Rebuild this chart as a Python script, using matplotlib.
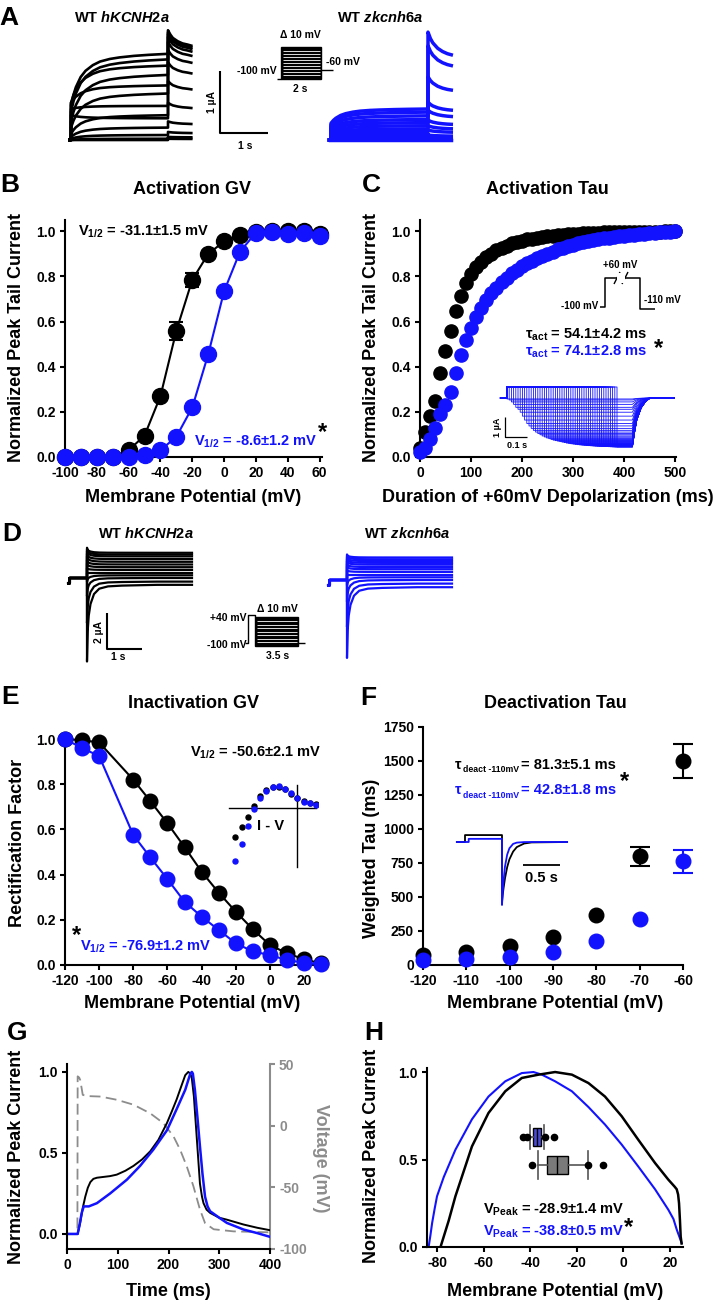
import numpy as np
import matplotlib
matplotlib.use('Agg')
import matplotlib.pyplot as plt
from matplotlib.patches import Rectangle
from matplotlib.ticker import FormatStrFormatter

plt.rcParams['font.family'] = ['Liberation Sans', 'DejaVu Sans']
plt.rcParams['font.weight'] = 'bold'
plt.rcParams['axes.labelweight'] = 'bold'
plt.rcParams['mathtext.fontset'] = 'custom'
plt.rcParams['mathtext.rm'] = 'Liberation Sans:bold'
plt.rcParams['mathtext.it'] = 'Liberation Sans:bold:italic'
plt.rcParams['mathtext.bf'] = 'Liberation Sans:bold'
plt.rcParams['mathtext.default'] = 'rm'
plt.rcParams['axes.unicode_minus'] = False
plt.rcParams['axes.facecolor'] = 'none'

BLUE = '#1212ff'
GRAY = '#8c8c8c'

# ---------------- data ----------------
# Panel A: activation current families (uA), 13 sweeps
a_shape_t = [0.0, 0.05, 0.1, 0.2, 0.3, 0.45, 0.6, 0.8, 1.0, 1.3, 1.6, 2.0]
a_shape_v = [0.0, 0.2, 0.35, 0.55, 0.67, 0.78, 0.85, 0.9, 0.93, 0.96, 0.98, 1.0]
a_tail_t = [0.0, 0.05, 0.1, 0.2, 0.3, 0.4, 0.48]
a_h_inst = [0.0, 0.0, 0.02, 0.05, 0.1, 0.2, 0.3, 0.45, 0.56, 0.6, 0.6, 0.5, 0.4]
a_h_ss = [0.0, 0.02, 0.08, 0.2, 0.4, 0.75, 1.05, 1.3, 1.39, 1.2, 0.88, 0.55, 0.35]
a_h_tail = [0.02, 0.05, 0.13, 0.3, 0.6, 0.95, 1.25, 1.45, 1.58, 1.66, 1.71, 1.74, 1.77]
a_h_tailfrac = [1.0, 0.96, 0.93, 0.9, 0.88, 0.87, 0.86]
a_z_inst = [0.0, 0.01, 0.02, 0.03, 0.05, 0.07, 0.09, 0.12, 0.15, 0.18, 0.21, 0.24, 0.27]
a_z_ss = [0.0, 0.02, 0.04, 0.07, 0.1, 0.14, 0.18, 0.23, 0.28, 0.33, 0.39, 0.45, 0.5]
a_z_tail = [0.0, 0.01, 0.02, 0.04, 0.08, 0.16, 0.23, 0.32, 0.48, 0.61, 1.02, 1.52, 1.74]
a_z_tailfrac = [1.0, 0.94, 0.9, 0.85, 0.82, 0.8, 0.79]

# Panel B: activation GV
b_volt = [-100, -90, -80, -70, -60, -50, -40, -30, -20, -10, 0, 10, 20, 30, 40, 50, 60]
b_black = [0.0, 0.0, 0.0, 0.0, 0.03, 0.095, 0.27, 0.56, 0.785, 0.90, 0.955, 0.985, 0.997, 1.0, 1.0, 1.0, 0.99]
b_black_err = [0, 0, 0, 0, 0, 0, 0, 0.04, 0.03, 0, 0, 0, 0, 0, 0, 0, 0]
b_blue = [0.0, 0.0, 0.0, 0.0, 0.0, 0.01, 0.03, 0.09, 0.22, 0.455, 0.735, 0.91, 0.994, 0.997, 0.99, 0.994, 0.978]

# Panel C: activation time course (ms)
c_time = list(range(0, 501, 10))
c_black = [0.04, 0.11, 0.18, 0.25, 0.37, 0.47, 0.56, 0.645, 0.715, 0.77,
           0.81, 0.84, 0.865, 0.885, 0.90, 0.915, 0.927, 0.937, 0.946, 0.953,
           0.959, 0.964, 0.968, 0.972, 0.975, 0.978, 0.981, 0.983, 0.985, 0.987,
           0.989, 0.990, 0.991, 0.992, 0.993, 0.994, 0.995, 0.995, 0.996, 0.996,
           0.997, 0.997, 0.998, 0.998, 0.998, 0.999, 0.999, 0.999, 1.0, 1.0, 1.0]
c_blue = [0.02, 0.04, 0.08, 0.13, 0.19, 0.23, 0.29, 0.37, 0.45, 0.52,
          0.57, 0.62, 0.66, 0.695, 0.725, 0.75, 0.775, 0.795, 0.815, 0.83,
          0.845, 0.86, 0.87, 0.88, 0.89, 0.90, 0.91, 0.92, 0.927, 0.934,
          0.94, 0.946, 0.952, 0.957, 0.961, 0.965, 0.969, 0.972, 0.975, 0.978,
          0.981, 0.983, 0.985, 0.987, 0.989, 0.991, 0.993, 0.995, 0.997, 0.998, 1.0]
c_in_depol = 0.55
c_in_tailmax = 2.45
c_in_end = 0.57
c_rec_t = [0.0, 0.01, 0.02, 0.04, 0.06, 0.08]
c_rec_f = [1.0, 0.7, 0.45, 0.2, 0.07, 0.0]

# Panel D: inactivation families (uA)
d_pre_t = [-0.53, -0.5, -0.5, 0.0]
d_pre_i = [-0.3, -0.3, 0.0, 0.0]
d_dec_t = [0.0, 0.02, 0.05, 0.1, 0.2, 0.35, 0.6, 1.0, 2.0, 3.0]
d_dec_f = [1.0, 0.6, 0.4, 0.25, 0.12, 0.05, 0.02, 0.01, 0.0, 0.0]
d_h_ss = [1.4, 1.3, 1.2, 1.05, 0.9, 0.75, 0.6, 0.45, 0.3, 0.15, 0.0, -0.2, -0.38]
d_h_pk = [1.68, 1.6, 1.5, 1.35, 1.2, 1.0, 0.8, 0.55, 0.3, -0.2, -1.0, -2.5, -4.64]
d_z_ss = [1.25, 1.15, 1.05, 0.95, 0.85, 0.72, 0.6, 0.45, 0.3, 0.15, 0.0, -0.2, -0.4]
d_z_pk = [1.42, 1.35, 1.25, 1.15, 1.05, 0.9, 0.75, 0.55, 0.3, -0.3, -1.2, -2.6, -4.33]

# Panel E: inactivation
e_volt = [-120, -110, -100, -80, -70, -60, -50, -40, -30, -20, -10, 0, 10, 20, 30]
e_black = [1.0, 0.995, 0.985, 0.82, 0.725, 0.627, 0.522, 0.413, 0.32, 0.236, 0.158, 0.088, 0.052, 0.025, 0.007]
e_blue = [1.0, 0.96, 0.925, 0.575, 0.476, 0.38, 0.28, 0.214, 0.155, 0.096, 0.06, 0.044, 0.022, 0.01, 0.004]
iv_volt = [-100, -90, -80, -70, -60, -50, -40, -30, -20, -10, 0, 10, 20, 30]
iv_black = [-1.38, -0.9, -0.43, 0.1, 0.57, 0.86, 1.0, 1.0, 0.9, 0.67, 0.48, 0.33, 0.24, 0.2]
iv_blue = [-2.5, -1.7, -0.86, -0.05, 0.48, 0.81, 1.0, 1.05, 0.9, 0.71, 0.48, 0.29, 0.24, 0.14]

# Panel F: deactivation
f_volt = [-120, -110, -100, -90, -80, -70, -60]
f_black = [74, 98, 140, 205, 368, 800, 1497]
f_black_err = [0, 0, 0, 0, 0, 70, 125]
f_blue = [37, 42, 61, 98, 179, 336, 762]
f_blue_err = [0, 0, 0, 0, 0, 0, 85]
f_in_t = [0.0, 0.01, 0.02, 0.04, 0.07, 0.1, 0.15, 0.2, 0.3, 0.4, 0.88]
f_in_black = [1.0, 0.88, 0.78, 0.61, 0.42, 0.29, 0.16, 0.085, 0.025, 0.007, 0.0]
f_in_blue = [1.0, 0.79, 0.63, 0.39, 0.2, 0.1, 0.03, 0.01, 0.001, 0.0, 0.0]
f_in_step_black = 0.11
f_in_step_blue = 0.05
f_in_peak_black = -0.95
f_in_peak_blue = -1.0

# Panel G: AP clamp
g_t_black = [0, 21, 26, 31, 36, 41, 46, 52, 59, 72, 85, 98, 115, 131, 148, 164, 180, 197, 207, 216,
             225, 233, 239, 243, 246, 250, 256, 262, 266, 269, 275, 282, 300, 315, 348, 375, 400]
g_black = [0.0, 0.0, 0.07, 0.16, 0.23, 0.285, 0.32, 0.34, 0.347, 0.352, 0.357, 0.366, 0.39, 0.42, 0.46,
           0.51, 0.58, 0.685, 0.76, 0.83, 0.91, 0.98, 1.0, 0.99, 0.96, 0.85, 0.58, 0.31, 0.23, 0.19,
           0.15, 0.13, 0.1, 0.088, 0.058, 0.038, 0.023]
g_t_blue = [0, 21, 25, 29, 33, 43, 59, 85, 118, 144, 170, 197, 216, 233, 240, 243, 246, 248, 252,
            257, 262, 267, 272, 277, 282, 300, 315, 348, 375, 400]
g_blue = [0.0, 0.0, 0.06, 0.13, 0.17, 0.17, 0.19, 0.25, 0.335, 0.42, 0.52, 0.64, 0.77, 0.89, 0.96,
          0.99, 1.0, 0.99, 0.89, 0.72, 0.54, 0.37, 0.23, 0.17, 0.14, 0.1, 0.068, 0.027, 0.005, -0.018]
g_t_volt = [0, 20.5, 21, 24, 26, 29, 31, 39, 66, 98, 131, 164, 190, 210, 223, 236, 249, 262, 272, 289, 328, 400]
g_volt = [-88, -88, 40, 39, 37, 30, 25, 24, 23.6, 21, 17, 10, 2, -8.8, -19.6, -33, -49, -68, -79, -84, -85.7, -86.5]

# Panel H: AP ramp I-V
h_v_blue = [-83.6, -82.8, -82.1, -81, -80, -77.1, -72.1, -65, -57.9, -50.7, -43.6, -38.6, -35, -29.3,
            -22.1, -15, -7.9, -0.7, 6.4, 13.6, 19.3, 21.5, 22.9, 24, 25]
h_blue = [0.0, 0.07, 0.137, 0.22, 0.29, 0.4, 0.556, 0.73, 0.86, 0.947, 0.994, 1.0, 0.985, 0.947,
          0.89, 0.80, 0.70, 0.585, 0.46, 0.33, 0.213, 0.16, 0.1, 0.06, 0.023]
h_v_black = [-78.5, -75, -72.1, -65, -57.9, -50.7, -43.6, -36.4, -29.3, -22.1, -15, -7.9, -0.7, 6.4,
             13.6, 19.3, 22.0, 22.9, 23.5, 23.9, 24.3, 24.6, 25]
h_black = [0.0, 0.15, 0.29, 0.575, 0.766, 0.89, 0.966, 0.985, 1.0, 0.985, 0.937, 0.86, 0.747, 0.613,
           0.48, 0.385, 0.345, 0.33, 0.3, 0.25, 0.15, 0.06, 0.02]
h_box_blue = dict(whislo=-40.0, q1=-38.9, med=-37.1, q3=-35.4, whishi=-34.0, fliers=[-42.9, -41.4, -33.6, -29.7])
h_box_black = dict(whislo=-36.7, q1=-32.6, med=-28.3, q3=-23.6, whishi=-15.0, fliers=[-39.3, -15.0, -8.6])
h_box_pos = [0.63, 0.469]

# ---------------- figure ----------------
W, H = 714, 1305
fig = plt.figure(figsize=(W / 100, H / 100), dpi=100)


def add_ax(x0, y0, x1, y1):
    return fig.add_axes([x0 / W, 1 - y1 / H, (x1 - x0) / W, (y1 - y0) / H])


def trace_ax(box, t0px, xs, b0px, ys):
    x0, y0, x1, y1 = box
    ax = add_ax(x0, y0, x1, y1)
    ax.set_xlim((x0 - t0px) / xs, (x1 - t0px) / xs)
    ax.set_ylim((b0px - y1) / ys, (b0px - y0) / ys)
    ax.axis('off')
    return ax


def style(ax):
    for s in ['top', 'right']:
        ax.spines[s].set_visible(False)
    for s in ['left', 'bottom']:
        ax.spines[s].set_linewidth(1.5)
    ax.tick_params(direction='out', length=3.5, width=1.5, labelsize=10, pad=3)


def err_only(ax, x, y, e, color, cap):
    xs = [a for a, b in zip(x, e) if b > 0]
    ys = [a for a, b in zip(y, e) if b > 0]
    es = [b for b in e if b > 0]
    ax.errorbar(xs, ys, yerr=es, fmt='none', ecolor=color, capsize=cap,
                elinewidth=1.5, capthick=1.5, clip_on=False, zorder=3)


# ---- Panel A traces
def act_sweeps(ax, inst, ss, tail, frac, color, lw):
    for i0, s0, tp in zip(inst, ss, tail):
        t = [-0.03, 0.0] + list(a_shape_t) + [a_shape_t[-1] + x for x in a_tail_t]
        y = [0.0, 0.0] + [i0 + (s0 - i0) * v for v in a_shape_v] + [tp * f for f in frac]
        ax.plot(t, y, color=color, lw=lw)


axA1 = trace_ax((60, 25, 200, 150), 71, 48.5, 140, 62)
act_sweeps(axA1, a_h_inst, a_h_ss, a_h_tail, a_h_tailfrac, 'k', 1.9)
axA2 = trace_ax((320, 25, 460, 150), 331, 48.5, 140, 62)
act_sweeps(axA2, a_z_inst, a_z_ss, a_z_tail, a_z_tailfrac, BLUE, 2.5)


# ---- Panel D traces
def inact_sweeps(ax, ss, pk, color, lw):
    for s0, p0 in zip(ss, pk):
        t = list(d_pre_t) + list(d_dec_t)
        y = list(d_pre_i) + [s0 + (p0 - s0) * f for f in d_dec_f]
        ax.plot(t, y, color=color, lw=lw)


axD1 = trace_ax((60, 540, 200, 670), 87, 35, 578, 18)
inact_sweeps(axD1, d_h_ss, d_h_pk, 'k', 1.6)
axD2 = trace_ax((320, 540, 460, 670), 347, 35, 580, 18)
inact_sweeps(axD2, d_z_ss, d_z_pk, BLUE, 1.6)

# ---- Panel B
axB = add_ax(65, 220, 322, 457)
style(axB)
err_only(axB, b_volt, b_black, b_black_err, 'k', 5)
axB.plot(b_volt, b_black, '-o', color='k', ms=11.5, lw=1.5, clip_on=False, zorder=3)
axB.plot(b_volt, b_blue, '-o', color=BLUE, ms=11.5, lw=1.5, clip_on=False, zorder=4)
axB.set_xlim(-100, 61.5)
axB.set_ylim(0, 1.05)
axB.set_xticks(range(-100, 61, 20))
axB.set_yticks([0, 0.2, 0.4, 0.6, 0.8, 1.0])
axB.yaxis.set_major_formatter(FormatStrFormatter('%.1f'))

# ---- Panel C
axC = add_ax(420, 220, 676, 457)
style(axC)
axC.plot(c_time, c_black, 'o', color='k', ms=9.5, clip_on=False, zorder=3)
axC.plot(c_time, c_blue, 'o', color=BLUE, ms=9.5, clip_on=False, zorder=4)
axC.set_xlim(0, 502)
axC.set_ylim(0, 1.05)
axC.set_xticks(range(0, 501, 100))
axC.set_yticks([0, 0.2, 0.4, 0.6, 0.8, 1.0])
axC.yaxis.set_major_formatter(FormatStrFormatter('%.1f'))

axCi = trace_ax((495, 380, 690, 455), 507, 220, 398, 20)
for d, a in zip(c_time, c_blue):
    ds = d / 1000.0
    amp = -c_in_tailmax * a
    t = [-0.03, 0.0, 0.0, ds, ds, c_in_end] + [c_in_end + x for x in c_rec_t] + [0.76]
    y = [0.0, 0.0, c_in_depol, c_in_depol, amp, amp] + [amp * f for f in c_rec_f] + [0.0]
    axCi.plot(t, y, color=BLUE, lw=0.6)

# ---- Panel E
axE = add_ax(65, 735, 328, 965)
style(axE)
axE.plot(e_volt, e_black, '-o', color='k', ms=10.5, lw=1.5, clip_on=False, zorder=3)
axE.plot(e_volt, e_blue, '-o', color=BLUE, ms=10.5, lw=1.5, clip_on=False, zorder=4)
axE.set_xlim(-120, 34)
axE.set_ylim(0, 1.018)
axE.set_xticks(range(-120, 21, 20))
axE.set_yticks([0, 0.2, 0.4, 0.6, 0.8, 1.0])
axE.yaxis.set_major_formatter(FormatStrFormatter('%.1f'))

axEi = add_ax(226, 780, 318, 870)
axEi.axis('off')
axEi.set_xlim(-115, 33)
axEi.set_ylim(-2.95, 1.33)
axEi.plot([-110, 30], [0, 0], color='k', lw=1.0)
axEi.plot([0, 0], [1.1, -2.8], color='k', lw=1.0)
axEi.plot(iv_volt, iv_black, 'o', color='k', ms=3.6)
axEi.plot(iv_volt, iv_blue, 'o', color=BLUE, ms=3.6)

# ---- Panel F
axF = add_ax(423, 727, 683, 965)
style(axF)
err_only(axF, f_volt, f_black, f_black_err, 'k', 7)
err_only(axF, f_volt, f_blue, f_blue_err, BLUE, 7)
axF.plot(f_volt, f_black, 'o', color='k', ms=10.5, clip_on=False, zorder=3)
axF.plot(f_volt, f_blue, 'o', color=BLUE, ms=10.5, clip_on=False, zorder=4)
axF.set_xlim(-120, -60)
axF.set_ylim(0, 1750)
axF.set_xticks(range(-120, -59, 10))
axF.set_yticks(range(0, 1751, 250))

axFi = trace_ax((450, 825, 575, 912), 502, 74, 842, 63)
axFi.plot([-0.61, -0.5, -0.5, 0.0] + list(f_in_t),
          [0, 0, f_in_step_black, f_in_step_black] + [f_in_peak_black * f for f in f_in_black],
          color='k', lw=1.3)
axFi.plot([-0.61, -0.45, -0.45, 0.0] + list(f_in_t),
          [0, 0, f_in_step_blue, f_in_step_blue] + [f_in_peak_blue * f for f in f_in_blue],
          color=BLUE, lw=1.3)

# ---- Panel G
axG = add_ax(67, 1064, 270, 1249)
axG2 = axG.twinx()
axG.set_zorder(axG2.get_zorder() + 1)
style(axG)
axG2.plot(g_t_volt, g_volt, color=GRAY, lw=1.3, dashes=(6, 3))
axG.plot(g_t_black, g_black, color='k', lw=1.4)
axG.plot(g_t_blue, g_blue, color=BLUE, lw=1.8)
axG.set_xlim(0, 400)
axG.set_ylim(-0.093, 1.049)
axG.set_xticks(range(0, 401, 100))
axG.set_yticks([0, 0.5, 1.0])
axG.yaxis.set_major_formatter(FormatStrFormatter('%.1f'))
axG2.set_ylim(-100, 50)
axG2.set_yticks([-100, -50, 0, 50])
for s in ['top', 'left', 'bottom']:
    axG2.spines[s].set_visible(False)
axG2.spines['right'].set_color(GRAY)
axG2.spines['right'].set_linewidth(1.5)
axG2.tick_params(axis='y', direction='out', length=3.5, width=1.5, labelsize=10, pad=3,
                 colors=GRAY, labelcolor=GRAY)

# ---- Panel H
axH = add_ax(427, 1068, 683, 1247)
style(axH)
axH.plot(h_v_blue, h_blue, color=BLUE, lw=1.5)
axH.plot(h_v_black, h_black, color='k', lw=1.8)
stats = []
for d0, lab in [(h_box_blue, 'b'), (h_box_black, 'k')]:
    s = dict(d0)
    s['label'] = lab
    stats.append(s)
fp = dict(marker='o', markerfacecolor='k', markeredgecolor='k', markersize=4.5)
try:
    bp = axH.bxp(stats, positions=h_box_pos, widths=[0.1, 0.1], orientation='horizontal',
                 patch_artist=True, capwidths=[0.14, 0.16], manage_ticks=False, flierprops=fp)
except TypeError:
    bp = axH.bxp(stats, positions=h_box_pos, widths=[0.1, 0.1], vert=False,
                 patch_artist=True, capwidths=[0.14, 0.16], manage_ticks=False, flierprops=fp)
for patch, fc in zip(bp['boxes'], ['#4a4ad6', '#7a7a7a']):
    patch.set_facecolor(fc)
    patch.set_edgecolor('k')
    patch.set_linewidth(1.0)
for ln in bp['medians']:
    ln.set_color('k')
    ln.set_linewidth(1.0)
for ln in bp['whiskers'] + bp['caps']:
    ln.set_color('#555555')
    ln.set_linewidth(1.2)
axH.set_xlim(-84.3, 25.6)
axH.set_ylim(0, 1.023)
axH.set_xticks(range(-80, 21, 20))
axH.set_yticks([0, 0.5, 1.0])
axH.yaxis.set_major_formatter(FormatStrFormatter('%.1f'))

# ---------------- overlay (text, protocols, scale bars) ----------------
ov = add_ax(0, 0, W, H)
ov.set_xlim(0, W)
ov.set_ylim(H, 0)
ov.axis('off')
ov.set_zorder(20)


def T(x, y, s, size=10.5, color='k', ha='center', va='center', rot=0):
    ov.text(x, y, s, fontsize=size, color=color, ha=ha, va=va, rotation=rot, fontweight='bold')


def L(xs, ys, color='k', lw=1.5):
    ov.plot(xs, ys, color=color, lw=lw, solid_capstyle='butt')


# panel letters
for lab, x, y in [('A', 9, 18), ('B', 10, 185), ('C', 371, 185), ('D', 12, 534),
                  ('E', 10, 697), ('F', 368, 698), ('G', 17, 1033), ('H', 374, 1033)]:
    T(x, y, lab, size=19)

# titles
T(122, 18, r'WT $\mathit{hKCNH2a}$', size=10.5)
T(380, 18, r'WT $\mathit{zkcnh6a}$', size=10.5)
T(146, 533, r'WT $\mathit{hKCNH2a}$', size=10.5)
T(407, 533, r'WT $\mathit{zkcnh6a}$', size=10.5)
T(192, 189, 'Activation GV', size=13)
T(547, 189, 'Activation Tau', size=13)
T(193, 703, 'Inactivation GV', size=13)
T(555, 703, 'Deactivation Tau', size=13)

# axis labels
T(17, 338, 'Normalized Peak Tail Current', size=13, rot=90)
T(372, 338, 'Normalized Peak Tail Current', size=13, rot=90)
T(193, 498, 'Membrane Potential (mV)', size=13)
T(548, 498, 'Duration of +60mV Depolarization (ms)', size=13)
T(18, 843, 'Rectification Factor', size=13, rot=90)
T(372, 858, 'Weighted Tau (ms)', size=13, rot=90)
T(192, 1003, 'Membrane Potential (mV)', size=13)
T(555, 1003, 'Membrane Potential (mV)', size=13)
T(17, 1157, 'Normalized Peak Current', size=13, rot=90)
T(320, 1158, 'Voltage (mV)', size=13, rot=270, color=GRAY)
T(168, 1292, 'Time (ms)', size=13)
T(372, 1156, 'Normalized Peak Current', size=13, rot=90)
T(555, 1292, 'Membrane Potential (mV)', size=13)

# Panel A scale bar & protocol
L([220, 220, 268], [71, 133, 133])
T(212, 102, '1 µA', size=7.5, rot=90)
T(245, 146, '1 s', size=7.5)
ov.add_patch(Rectangle((281, 47), 40, 32, facecolor='k', edgecolor='k', lw=1))
for yy in np.linspace(51, 75, 9):
    L([282.5, 319.5], [yy, yy], color='white', lw=0.6)
L([277, 281], [79, 79], lw=1.0)
L([321, 333], [70, 70], lw=1.0)
T(300, 35, 'Δ 10 mV', size=7.5)
T(257, 71, '-100 mV', size=7.5)
T(343, 62, '-60 mV', size=7.5)
T(300, 89, '2 s', size=7.5)

# Panel B annotations
T(78, 232, r'$V_{1/2}$ = -31.1±1.5 mV', size=10.5, ha='left')
T(194, 442, r'$V_{1/2}$ = -8.6±1.2 mV', size=10.5, ha='left', color=BLUE)
T(323, 433, '*', size=17)

# Panel C annotations
T(620, 265, '+60 mV', size=7)
T(580, 306, '-100 mV', size=7)
T(662, 300, '-110 mV', size=7)
L([600, 605, 605, 640, 640, 655], [307, 307, 278, 278, 309, 309], lw=1.1)
ov.add_patch(Rectangle((617, 273), 8, 10, facecolor='white', edgecolor='none', zorder=5))
L([614, 620], [284, 272], lw=1.0)
L([622, 628], [284, 272], lw=1.0)
T(525, 335, r'$τ_{act}$ = 54.1±4.2 ms', size=10.5, ha='left')
T(525, 352, r'$τ_{act}$ = 74.1±2.8 ms', size=10.5, ha='left', color=BLUE)
T(658, 349, '*', size=17)
L([505, 505, 527], [417, 437, 437], lw=0.9)
T(498, 427, '1 µA', size=6.5, rot=90)
T(517, 445, '0.1 s', size=6.5)

# Panel D scale bar & protocol
L([107, 107, 142], [613, 649, 649])
T(99, 632, '2 µA', size=7.5, rot=90)
T(118, 657, '1 s', size=7.5)
L([245, 248, 248, 255, 255], [643, 643, 615, 615, 617], lw=1.0)
ov.add_patch(Rectangle((255, 617), 43, 29, facecolor='k', edgecolor='k', lw=1))
for yy in np.linspace(621, 642, 7):
    L([256.5, 296.5], [yy, yy], color='white', lw=0.6)
L([298, 305], [643, 643], lw=1.0)
T(228, 618, '+40 mV', size=7.5)
T(227, 645, '-100 mV', size=7.5)
T(277, 609, 'Δ 10 mV', size=7.5)
T(278, 656, '3.5 s', size=7.5)

# Panel E annotations
T(190, 753, r'$V_{1/2}$ = -50.6±2.1 mV', size=10.5, ha='left')
T(80, 947, r'$V_{1/2}$ = -76.9±1.2 mV', size=10.5, ha='left', color=BLUE)
T(77, 936, '*', size=17)
T(271, 826, 'I - V', size=10.5)

# Panel F annotations (tau with small subscript built from pieces)
for yb, val, col in [(765, '= 81.3±5.1 ms', 'k'), (790, '= 42.8±1.8 ms', BLUE)]:
    T(455, yb, 'τ', size=10.5, ha='left', color=col)
    T(463, yb + 5, 'deact -110mV', size=6.3, ha='left', color=col)
    T(521, yb, val, size=10.5, ha='left', color=col)
T(624, 782, '*', size=17)
L([523, 560], [865, 865], lw=1.3)
T(541, 878, '0.5 s', size=10.5)

# Panel H annotations
T(483, 1210, r'$V_{Peak}$ = -28.9±1.4 mV', size=10.5, ha='left')
T(483, 1232, r'$V_{Peak}$ = -38.8±0.5 mV', size=10.5, ha='left', color=BLUE)
T(628, 1228, '*', size=17)

fig.savefig('out.png', dpi=100)
